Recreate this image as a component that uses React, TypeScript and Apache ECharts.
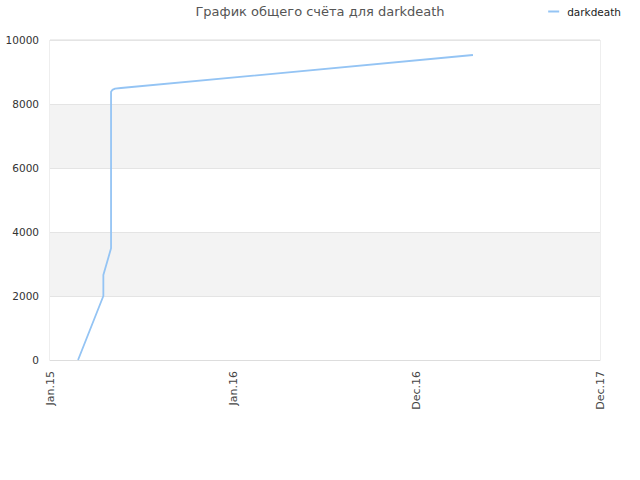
import { useEffect, useRef } from 'react';
import * as echarts from 'echarts';

// tick labels along the x axis (evenly spaced on the original chart)
const xLabels = ['Jan.15', 'Jan.16', 'Dec.16', 'Dec.17'];
// positions on the x axis, in units of one label interval
const scoreX = [0.153, 0.291, 0.291, 0.333, 0.333, 0.34, 0.355, 0.387, 2.307];
// total score at each position
const scoreY = [0, 2000, 2656, 3490, 8384, 8440, 8480, 8500, 9531];

const seriesName = 'darkdeath';
const titleText = 'График общего счёта для darkdeath';

const App = () => {
  const ref = useRef<HTMLDivElement>(null);

  useEffect(() => {
    if (!ref.current) return;
    const chart = echarts.init(ref.current, undefined, { renderer: 'svg' });
    chart.setOption({
      animation: false,
      textStyle: { fontFamily: 'DejaVu Sans' },
      title: {
        text: titleText,
        left: 'center',
        top: 0,
        textStyle: { fontSize: 13, fontWeight: 'normal', color: '#555' },
      },
      legend: {
        right: 14,
        top: 1,
        icon: 'rect',
        itemWidth: 11,
        itemHeight: 2,
        itemGap: 5,
        textStyle: { fontSize: 10.5, color: '#222', padding: [0, 0, 0, 3] },
        data: [seriesName],
      },
      grid: {
        left: 50,
        right: 40,
        top: 40,
        bottom: 120,
        show: true,
        borderColor: '#ddd',
        borderWidth: 1,
      },
      xAxis: {
        type: 'value',
        min: 0,
        max: 3,
        interval: 1,
        axisLine: { show: true, lineStyle: { color: '#ddd' } },
        axisTick: { show: false },
        splitLine: { show: false },
        axisLabel: {
          rotate: 90,
          fontSize: 11,
          color: '#444',
          margin: 11,
          formatter: (v: number) => xLabels[Math.round(v)] ?? '',
        },
      },
      yAxis: {
        type: 'value',
        min: 0,
        max: 10000,
        interval: 2000,
        axisLine: { show: false },
        axisTick: { show: false },
        axisLabel: {
          fontSize: 10.5,
          color: '#333',
          margin: 11,
          formatter: (v: number) => String(v),
        },
        splitLine: { lineStyle: { color: '#e4e4e4' } },
        splitArea: { show: true, areaStyle: { color: ['#ffffff', '#f3f3f3'] } },
      },
      series: [
        {
          name: seriesName,
          type: 'line',
          showSymbol: false,
          color: '#94c4f4',
          lineStyle: { width: 1.8, color: '#94c4f4' },
          data: scoreX.map((x, i) => [x, scoreY[i]]),
        },
      ],
    });
    return () => chart.dispose();
  }, []);

  return (
    <div
      ref={ref}
      style={{ position: 'absolute', left: 0, top: 0, width: 640, height: 480 }}
    />
  );
};

export default App;
